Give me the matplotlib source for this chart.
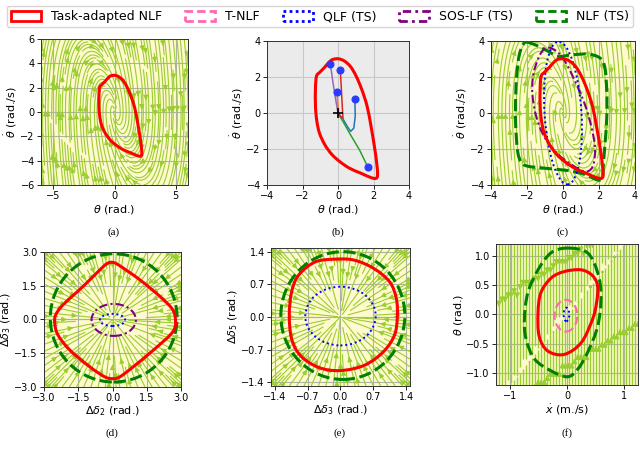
import numpy as np
import matplotlib
matplotlib.use('Agg')
import matplotlib.pyplot as plt
from matplotlib.patches import Patch, Ellipse, PathPatch
from matplotlib.path import Path

# legend entries
legend_labels = ['Task-adapted NLF', 'T-NLF', 'QLF (TS)', 'SOS-LF (TS)', 'NLF (TS)']
panel_tags = ['(a)', '(b)', '(c)', '(d)', '(e)', '(f)']

# pendulum: task-adapted NLF level set (theta, theta_dot)
pend_red_th = [-0.50, -0.28, 0.04, 0.37, 0.71, 1.02, 1.34, 1.64, 1.86, 2.05, 2.18, 2.23,
               2.14, 1.86, 1.30, 0.65, 0.10, -0.35, -0.75, -1.05, -1.20, -1.27, -1.27, -1.21, -1.02, -0.78]
pend_red_dth = [2.83, 2.98, 3.01, 2.88, 2.57, 2.05, 1.30, 0.37, -0.74, -1.86, -2.79, -3.44,
                -3.63, -3.59, -3.35, -3.07, -2.70, -2.30, -1.75, -1.10, -0.40, 0.40, 1.40, 2.05, 2.27, 2.51]

# pendulum: NLF (TS) level set
pend_green_th = [-2.02, -1.46, -0.81, -0.26, 0.48, 1.41, 2.06, 2.33, 2.43, 2.43, 2.33, 2.24, 2.19,
                 1.96, 1.22, 0.48, -0.26, -1.19, -1.93, -2.30, -2.52, -2.63, -2.63, -2.57, -2.43, -2.20]
pend_green_dth = [3.94, 3.75, 3.42, 3.14, 3.23, 3.27, 3.05, 2.50, 1.20, -0.28, -1.76, -2.87, -3.51,
                  -3.73, -3.42, -3.23, -3.14, -3.05, -2.96, -2.77, -2.13, -0.65, 0.83, 2.13, 3.23, 3.83]

# pendulum: SOS-LF (TS) level set
pend_purple_th = [-0.81, -0.35, 0.11, 0.67, 1.22, 1.59, 1.78, 1.69, 1.41, 1.04, 0.48, -0.26,
                  -1.00, -1.46, -1.70, -1.65, -1.37, -1.09]
pend_purple_dth = [3.64, 3.42, 2.87, 1.76, 0.46, -0.83, -1.94, -2.87, -3.23, -3.20, -2.87, -2.31,
                   -1.39, -0.28, 1.02, 2.13, 3.05, 3.51]

# pendulum: QLF (TS) ellipse (centre, width, height, angle)
pend_qlf = [(0.0, 0.0), 2.05, 7.95, 3.7]

# pendulum trajectories (panel b)
traj_th = [
    [0.95, 0.97, 0.89, 0.71, 0.52, 0.28, 0.04, 0.0],
    [-0.06, -0.02, 0.04, 0.0],
    [1.67, 1.21, 0.65, 0.28, 0.04, 0.0],
    [0.13, 0.19, 0.24, 0.28, 0.15, 0.0],
    [-0.43, -0.28, -0.13, 0.0],
]
traj_dth = [
    [0.78, -0.19, -0.84, -1.02, -0.74, -0.33, -0.04, 0.0],
    [1.15, 0.60, 0.09, 0.0],
    [-2.98, -2.05, -1.12, -0.47, -0.09, 0.0],
    [2.38, 1.30, 0.37, -0.28, -0.22, 0.0],
    [2.70, 1.67, 0.74, 0.0],
]
traj_colors = ['tab:blue', 'tab:orange', 'tab:green', 'tab:red', 'tab:purple']

# panel (d): task-adapted NLF level set (d_delta2, d_delta3)
d_red_x = [-0.04, 0.25, 1.20, 2.08, 2.59, 2.74, 2.74, 2.52, 1.79, 0.91, 0.32, 0.03, -0.34,
           -1.00, -1.87, -2.39, -2.53, -2.49, -2.17, -1.29, -0.56, -0.26]
d_red_y = [2.54, 2.43, 1.76, 1.02, 0.50, 0.13, -0.32, -0.69, -1.36, -2.10, -2.55, -2.63, -2.55,
           -2.10, -1.36, -0.69, -0.17, 0.20, 0.65, 1.47, 2.20, 2.47]
d_green = [(0.05, 0.07), 5.55, 5.70, 0]
d_purple = [(0.05, -0.02), 1.94, 1.42, 0]
d_blue = [(0.0, -0.02), 1.10, 0.54, 0]

# panel (e): task-adapted NLF level set (d_delta3, d_delta5)
e_red_x = [-0.12, -0.54, -0.89, -1.04, -1.09, -1.04, -0.85, -0.47, -0.02, 0.50, 0.91, 1.15,
           1.21, 1.19, 1.05, 0.71, 0.29]
e_red_y = [1.24, 1.18, 0.90, 0.54, 0.04, -0.47, -0.83, -1.08, -1.15, -1.04, -0.75, -0.39,
           0.0, 0.39, 0.75, 1.04, 1.22]
e_green = [(0.05, 0.03), 2.64, 2.74, 0]
e_blue = [(0.0, 0.02), 1.50, 1.26, 0]

# panel (f): cart-pole (x_dot, theta)
f_red_x = [0.25, 0.45, 0.54, 0.52, 0.45, 0.25, -0.05, -0.34, -0.49, -0.51, -0.46, -0.28, -0.05]
f_red_y = [0.76, 0.66, 0.48, 0.20, -0.08, -0.48, -0.68, -0.62, -0.37, 0.03, 0.37, 0.62, 0.73]
f_green_x = [0.01, 0.36, 0.54, 0.60, 0.54, 0.36, 0.19, 0.01, -0.28, -0.57, -0.72, -0.75,
             -0.69, -0.51, -0.28]
f_green_y = [1.13, 1.05, 0.71, 0.31, -0.20, -0.65, -0.93, -1.06, -0.96, -0.76, -0.42, -0.08,
             0.37, 0.76, 1.05]
f_pink = [(-0.02, -0.02), 0.40, 0.54, 0]
f_blue = [(-0.01, 0.0), 0.10, 0.23, 0]

# closed-loop vector field parameters
PEND_K, PEND_D = 8.0, 3.0
CART_SLOPE = 1.2

RED = '#ff0000'
PINK = '#ff69b4'
BLUE = '#0000ff'
PURPLE = '#800080'
GREEN = '#008000'
STREAM = '#9acd32'
BG = '#fffacd'

style_red = dict(color=RED, lw=2.2, ls='-')
style_pink = dict(color=PINK, lw=1.5, ls=(0, (4, 1.8)))
style_blue = dict(color=BLUE, lw=1.4, ls=(0, (1, 1.5)))
style_purple = dict(color=PURPLE, lw=1.5, ls=(0, (4, 1.5, 1, 1.5)))
style_green = dict(color=GREEN, lw=2.2, ls=(0, (4, 1.5)))


def smooth_loop(ax, xs, ys, style):
    # closed catmull-rom curve through the read points, as cubic bezier pieces
    p = np.column_stack([xs, ys])
    n = len(p)
    verts = [p[0]]
    codes = [Path.MOVETO]
    for i in range(n):
        p0, p1, p2, p3 = p[i - 1], p[i], p[(i + 1) % n], p[(i + 2) % n]
        verts += [p1 + (p2 - p0) / 6, p2 - (p3 - p1) / 6, p2]
        codes += [Path.CURVE4] * 3
    patch = PathPatch(Path(verts, codes), fill=False, edgecolor=style['color'],
                      lw=style['lw'], ls=style['ls'], zorder=4)
    ax.add_patch(patch)


def ellipse(ax, params, style):
    c, w, h, a = params
    ax.add_patch(Ellipse(c, w, h, angle=a, fill=False, edgecolor=style['color'],
                         lw=style['lw'], ls=style['ls'], zorder=4))


def setup(ax, lim_x, lim_y, ticks_x, ticks_y, xlabel, ylabel, bg=BG, fmt=None):
    ax.set_facecolor(bg)
    ax.set_xlim(lim_x)
    ax.set_ylim(lim_y)
    ax.set_xticks(ticks_x)
    ax.set_yticks(ticks_y)
    if fmt:
        ax.set_xticklabels([fmt.format(t).replace('-', '\u2212') for t in ticks_x])
        ax.set_yticklabels([fmt.format(t).replace('-', '\u2212') for t in ticks_y])
    ax.tick_params(labelsize=7, length=3, width=0.6, pad=1.5)
    ax.set_xlabel(xlabel, fontsize=8, labelpad=1)
    ax.set_ylabel(ylabel, fontsize=8, labelpad=1)
    ax.grid(True, color='#b0b0b0', lw=0.8, zorder=0)
    ax.set_axisbelow(True)
    for s in ax.spines.values():
        s.set_linewidth(0.7)
        s.set_color('#333333')


def pend_stream(ax, lim, density):
    th = np.linspace(-lim, lim, 120)
    X, Y = np.meshgrid(th, th)
    U = Y
    V = -PEND_K * X - PEND_D * Y
    ax.streamplot(X, Y, U, V, color=STREAM, density=density, linewidth=0.8,
                  arrowsize=0.7, zorder=2)


def radial_stream(ax, lim, density):
    g = np.linspace(-lim, lim, 100)
    X, Y = np.meshgrid(g, g)
    ax.streamplot(X, Y, -X, -Y, color=STREAM, density=density, linewidth=0.8,
                  arrowsize=0.7, zorder=2)


fig = plt.figure(figsize=(6.4, 4.54), dpi=100)

th_lab = r'$\theta$ (rad.)'
dth_lab = r'$\dot{\theta}$ (rad./s)'

# (a)
ax = fig.add_axes([0.0641, 0.5925, 0.2297, 0.3216])
setup(ax, (-6, 6), (-6, 6), [-5, 0, 5], [-6, -4, -2, 0, 2, 4, 6], th_lab, dth_lab)
pend_stream(ax, 6, 1.8)
smooth_loop(ax, pend_red_th, pend_red_dth, style_red)

# (b)
ax = fig.add_axes([0.4172, 0.5925, 0.2219, 0.3172])
setup(ax, (-4, 4), (-4, 4), [-4, -2, 0, 2, 4], [-4, -2, 0, 2, 4], th_lab, dth_lab,
      bg='#ebebeb')
ax.grid(True, color='#c8c8c8', lw=0.8)
smooth_loop(ax, pend_red_th, pend_red_dth, style_red)
for xs, ys, c in zip(traj_th, traj_dth, traj_colors):
    ax.plot(xs, ys, color=c, lw=1.1, zorder=3)
    ax.plot(xs[0], ys[0], 'o', color='#2a3cff', ms=4.8, zorder=5)
ax.plot(0, 0, '+', color='black', ms=7, mew=1.2, zorder=5)

# (c)
ax = fig.add_axes([0.7672, 0.5925, 0.225, 0.3172])
setup(ax, (-4, 4), (-4, 4), [-4, -2, 0, 2, 4], [-4, -2, 0, 2, 4], th_lab, dth_lab)
pend_stream(ax, 4, 1.3)
smooth_loop(ax, pend_green_th, pend_green_dth, style_green)
smooth_loop(ax, pend_purple_th, pend_purple_dth, style_purple)
ellipse(ax, pend_qlf, style_blue)
smooth_loop(ax, pend_red_th, pend_red_dth, style_red)

# (d)
ax = fig.add_axes([0.0688, 0.1476, 0.2141, 0.2974])
tk = [-3.0, -1.5, 0.0, 1.5, 3.0]
setup(ax, (-3, 3), (-3, 3), tk, tk, r'$\Delta\delta_2$ (rad.)', r'$\Delta\delta_3$ (rad.)',
      fmt='{:.1f}')
radial_stream(ax, 3, 1.3)
ellipse(ax, d_green, style_green)
ellipse(ax, d_purple, style_purple)
ellipse(ax, d_blue, style_blue)
smooth_loop(ax, d_red_x, d_red_y, style_red)

# (e)
ax = fig.add_axes([0.4234, 0.1498, 0.2172, 0.304])
tk = [-1.4, -0.7, 0.0, 0.7, 1.4]
setup(ax, (-1.48, 1.48), (-1.48, 1.48), tk, tk, r'$\Delta\delta_3$ (rad.)',
      r'$\Delta\delta_5$ (rad.)', fmt='{:.1f}')
radial_stream(ax, 1.48, 1.3)
ellipse(ax, e_green, style_green)
ellipse(ax, e_blue, style_blue)
smooth_loop(ax, e_red_x, e_red_y, style_red)

# (f)
ax = fig.add_axes([0.775, 0.152, 0.2219, 0.3106])
setup(ax, (-1.25, 1.25), (-1.2, 1.2), [-1, 0, 1], [-1.0, -0.5, 0.0, 0.5, 1.0],
      r'$\dot{x}$ (m./s)', th_lab)
ax.set_yticklabels(['\u22121.0', '\u22120.5', '0.0', '0.5', '1.0'])
gx = np.linspace(-1.25, 1.25, 100)
gy = np.linspace(-1.7, 1.7, 120)
X, Y = np.meshgrid(gx, gy)
ax.streamplot(X, Y, np.zeros_like(X), -(Y - CART_SLOPE * X), color=STREAM,
              density=(1.6, 1.0), linewidth=1.0, arrowsize=0.7, zorder=2)
smooth_loop(ax, f_green_x, f_green_y, style_green)
smooth_loop(ax, f_red_x, f_red_y, style_red)
ellipse(ax, f_pink, style_pink)
ellipse(ax, f_blue, style_blue)

# captions
cap_x = [114, 338, 563, 112, 340, 567]
cap_y = [232, 232, 232, 433, 433, 433]
for t, x, y in zip(panel_tags, cap_x, cap_y):
    fig.text(x / 640, 1 - y / 454, t, family='Liberation Serif', fontsize=8,
             ha='center', va='center')

# legend
handles = [
    Patch(fill=False, edgecolor=RED, lw=2, ls='-'),
    Patch(fill=False, edgecolor=PINK, lw=2, ls=(0, (3, 1.5))),
    Patch(fill=False, edgecolor=BLUE, lw=2, ls=(0, (1, 1.2))),
    Patch(fill=False, edgecolor=PURPLE, lw=2, ls=(0, (3, 1.5, 1, 1.5))),
    Patch(fill=False, edgecolor=GREEN, lw=2, ls=(0, (3, 1.5))),
]
fig.legend(handles, legend_labels, loc='upper center', bbox_to_anchor=(0.0047, 0.5, 0.9906, 0.4956),
           mode='expand', ncol=5, fontsize=9, handlelength=2.4, handleheight=0.8,
           handletextpad=0.8, borderaxespad=0.3, frameon=True, edgecolor='#cccccc',
           fancybox=True, borderpad=0.35)

fig.savefig('out.png', dpi=100)
